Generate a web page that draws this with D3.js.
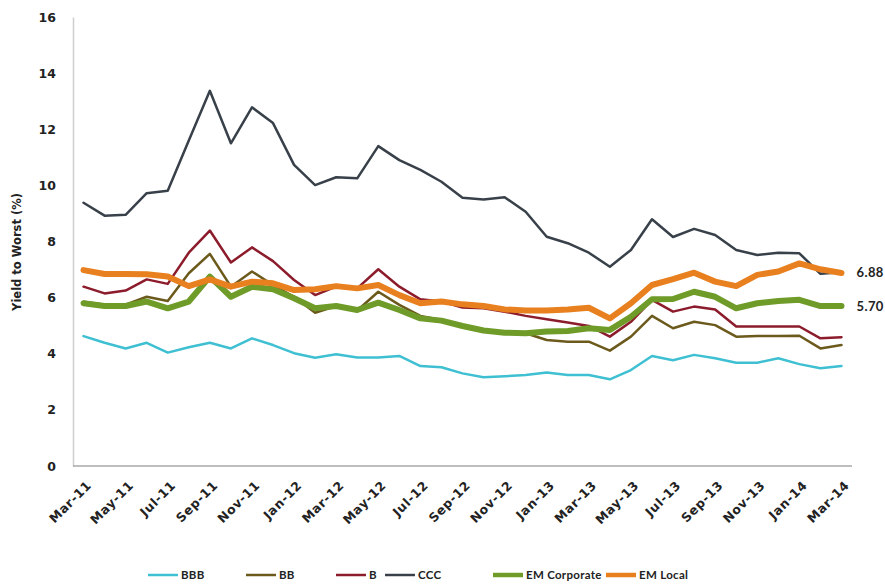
<!DOCTYPE html>
<html><head><meta charset="utf-8">
<script src="https://cdn.jsdelivr.net/npm/d3@7"></script>
<style>body{margin:0;background:#fff;} text{font-family:"DejaVu Sans",sans-serif;font-weight:bold;fill:#222;}</style>
</head><body>
<svg id="chart" width="885" height="585"></svg>
<script>
const months = ["Mar-11","Apr-11","May-11","Jun-11","Jul-11","Aug-11","Sep-11","Oct-11","Nov-11","Dec-11",
"Jan-12","Feb-12","Mar-12","Apr-12","May-12","Jun-12","Jul-12","Aug-12","Sep-12","Oct-12","Nov-12","Dec-12",
"Jan-13","Feb-13","Mar-13","Apr-13","May-13","Jun-13","Jul-13","Aug-13","Sep-13","Oct-13","Nov-13","Dec-13",
"Jan-14","Feb-14","Mar-14"];
const tickLabels = months.filter((m,i)=>i%2===0);
const yTicks = [0,2,4,6,8,10,12,14,16];
const seriesNames = ["BBB","BB","B","CCC","EM Corporate","EM Local"];
const BBB = [4.63,4.39,4.19,4.39,4.04,4.23,4.39,4.19,4.55,4.31,4.02,3.86,3.98,3.87,3.87,3.92,3.56,3.52,3.3,3.16,3.2,3.24,3.33,3.24,3.24,3.09,3.42,3.92,3.77,3.96,3.84,3.68,3.68,3.84,3.63,3.48,3.56];
const BB = [5.85,5.75,5.75,6.03,5.88,6.87,7.56,6.39,6.93,6.45,6.03,5.46,5.7,5.54,6.21,5.74,5.35,5.2,5.0,4.83,4.75,4.73,4.49,4.43,4.43,4.11,4.61,5.35,4.91,5.14,5.02,4.61,4.63,4.63,4.64,4.19,4.31];
const B = [6.39,6.15,6.25,6.65,6.49,7.6,8.39,7.25,7.79,7.3,6.63,6.09,6.39,6.33,7.01,6.39,5.94,5.86,5.65,5.62,5.5,5.35,5.23,5.11,4.99,4.61,5.14,5.92,5.5,5.68,5.58,4.97,4.97,4.97,4.97,4.55,4.59];
const CCC = [9.38,8.92,8.95,9.72,9.81,11.6,13.37,11.5,12.78,12.22,10.73,10.01,10.29,10.25,11.4,10.9,10.55,10.13,9.56,9.5,9.58,9.06,8.17,7.94,7.6,7.1,7.7,8.79,8.16,8.45,8.23,7.7,7.52,7.6,7.58,6.85,6.9];
const EMCorp = [5.8,5.7,5.7,5.86,5.62,5.86,6.75,6.03,6.39,6.3,5.98,5.62,5.7,5.56,5.82,5.56,5.26,5.18,4.99,4.83,4.75,4.73,4.79,4.81,4.91,4.85,5.32,5.94,5.95,6.21,6.03,5.62,5.8,5.88,5.92,5.7,5.7];
const EMLocal = [6.98,6.84,6.84,6.83,6.75,6.41,6.65,6.39,6.57,6.51,6.27,6.3,6.41,6.33,6.45,6.09,5.8,5.86,5.76,5.7,5.58,5.54,5.54,5.58,5.64,5.26,5.8,6.45,6.66,6.89,6.57,6.41,6.81,6.93,7.22,7.01,6.88];
const seriesValues = [BBB,BB,B,CCC,EMCorp,EMLocal];
const colors = ["#3fc0d2","#6b5a1c","#8c1c2c","#384049","#6f9b29","#e8801f"];
const widths = [2.5,2.5,2.5,2.5,6,6];
const endLabels = [{v:6.88,txt:"6.88"},{v:5.70,txt:"5.70"}];

const svg = d3.select("#chart");
const pLeft=73, pRight=852, pTop=17, pBottom=466;
const x = d3.scalePoint().domain(months).range([pLeft,pRight]).padding(0.5);
const y = d3.scaleLinear().domain([0,16]).range([pBottom,pTop]);

// y axis
const yAx = svg.append("g").attr("transform",`translate(${pLeft},0)`)
  .call(d3.axisLeft(y).tickValues(yTicks).tickSize(0).tickPadding(17).tickFormat(d3.format("d")));
yAx.select(".domain").attr("stroke","#cfcfcf").attr("stroke-width",1.5);
yAx.selectAll("text").style("font-size","12.5px").style("font-family","DejaVu Sans").attr("fill","#222");

// x axis
const xAx = svg.append("g").attr("transform",`translate(0,${pBottom})`)
  .call(d3.axisBottom(x).tickValues(tickLabels).tickSize(0).tickSizeOuter(0));
xAx.select(".domain").attr("stroke","#a8a8a8").attr("stroke-width",1.5).attr("d",`M${pLeft},0H${pRight}`);
xAx.selectAll("text").style("font-size","12.5px").style("font-family","DejaVu Sans").style("letter-spacing","0.6px").attr("fill","#222")
  .attr("text-anchor","end").attr("dy","0").attr("transform","translate(6,18) rotate(-45)");

// y title
svg.append("text").attr("transform",`translate(21,252) rotate(-90)`)
  .attr("text-anchor","middle").style("font-size","11.5px").text("Yield to Worst (%)");

// lines
const line = d3.line().x((d,i)=>x(months[i])).y(d=>y(d)).curve(d3.curveLinear);
seriesValues.forEach((vals,k)=>{
  svg.append("path").datum(vals).attr("d",line).attr("fill","none")
    .attr("stroke",colors[k]).attr("stroke-width",widths[k]).attr("stroke-linejoin","round").attr("stroke-linecap","round");
});

// end labels
endLabels.forEach(l=>{
  svg.append("text").attr("x",x(months[months.length-1])+15).attr("y",y(l.v)).attr("dy","0.35em")
    .style("font-size","13px").style("font-family","Lato, 'DejaVu Sans'").style("letter-spacing","0.4px").text(l.txt);
});

// legend
const legX = [148,246,336,385,493,606];
const lg = svg.append("g").attr("transform","translate(0,575)");
seriesNames.forEach((n,k)=>{
  lg.append("line").attr("x1",legX[k]).attr("x2",legX[k]+30).attr("y1",0).attr("y2",0)
    .attr("stroke",colors[k]).attr("stroke-width",widths[k]===6?4.5:2.5);
  lg.append("text").attr("x",legX[k]+33).attr("y",0).attr("dy","0.35em")
    .style("font-size","11.5px").style("font-family","Lato, 'DejaVu Sans'").style("letter-spacing","0.3px").text(n);
});
</script>
</body></html>
